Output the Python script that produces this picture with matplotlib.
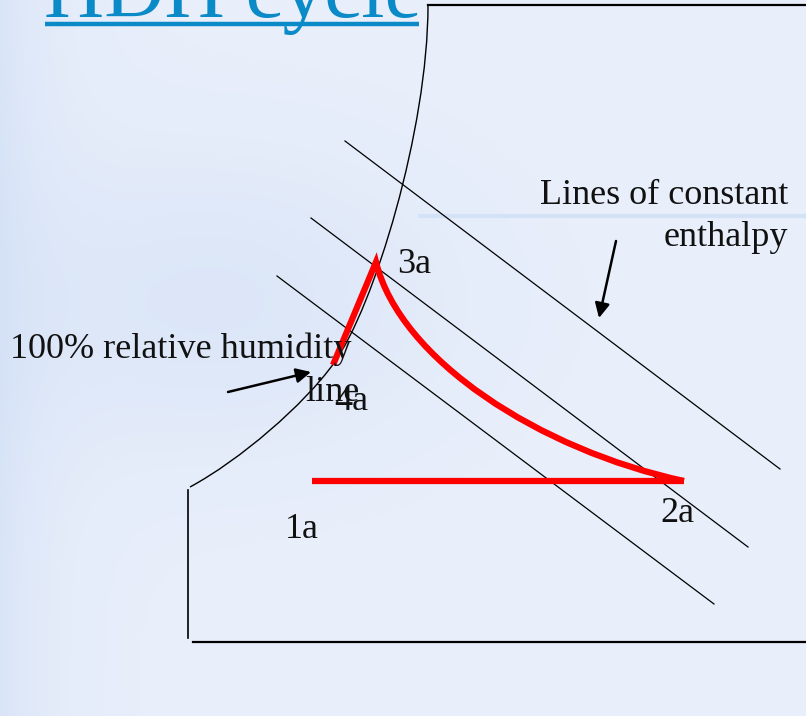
import numpy as np
import matplotlib.pyplot as plt
from matplotlib.path import Path
from matplotlib.patches import PathPatch

# diagram coordinates (image-like units, y grows downward)
# 100% RH curve as two cubic bezier pieces (anchor, ctrl, ctrl, anchor, ctrl, ctrl, anchor)
sat_x = [190, 240, 304, 334, 374, 428, 428]
sat_y = [487, 460, 405, 363, 307, 130, 5]

enth_x0 = [345, 311, 277]
enth_y0 = [141, 218, 276]
enth_x1 = [780, 748, 714]
enth_y1 = [469, 547, 604]

# cycle states
p4a = (333, 365)
p3a = (376, 262)
p2a = (684, 481)
p1a = (312, 481)
# bezier controls for the 3a -> 2a process
ctrl_x = [400, 540]
ctrl_y = [360, 450]

labels = ['3a', '4a', '1a', '2a']
lab_x = [397, 334, 285, 660]
lab_y = [273, 410, 538, 522]

fig = plt.figure(figsize=(8.06, 7.16), dpi=100)
ax = fig.add_axes([0, 0, 1, 1])
ax.set_xlim(0, 806)
ax.set_ylim(716, 0)
ax.axis('off')

# soft slide background
yy, xx = np.mgrid[0:716, 0:806]
base = np.array([233, 239, 251]) / 255.0
dark = np.array([210, 224, 246]) / 255.0
w = np.exp(-xx / 50.0) * 0.7
w = w + 0.55 * np.exp(-(((xx - 220) / 230.0) ** 2 + ((yy - 300) / 150.0) ** 2))
w = np.clip(w, 0, 1)
bg = base[None, None, :] * (1 - w[..., None]) + dark[None, None, :] * w[..., None]
ax.imshow(bg, extent=[0, 806, 716, 0], zorder=0, aspect='auto')
ax.plot([420, 806], [216, 216], color='#d4e2f7', lw=3, zorder=1)

# title
ax.text(44, 17, 'HDH cycle', fontsize=60, color='#0b8ac8',
        family='Liberation Serif', va='baseline', zorder=5)
ax.plot([45, 419], [24, 24], color='#0b8ac8', lw=3.2, solid_capstyle='butt', zorder=5)

# chart frame
codes = [Path.MOVETO] + [Path.CURVE4] * 6
sat = Path(list(zip(sat_x, sat_y)), codes)
ax.add_patch(PathPatch(sat, fc='none', ec='black', lw=1.0, zorder=3))
ax.plot([428, 806], [5, 5], color='black', lw=1.6, zorder=3)
ax.plot([188, 188], [490, 638], color='black', lw=1.2, zorder=3)
ax.plot([193, 806], [642, 642], color='black', lw=1.6, zorder=3)

# constant enthalpy lines
for i in range(len(enth_x0)):
    ax.plot([enth_x0[i], enth_x1[i]], [enth_y0[i], enth_y1[i]],
            color='black', lw=0.9, zorder=3)

# cycle
cyc = Path([p4a, p3a, (ctrl_x[0], ctrl_y[0]), (ctrl_x[1], ctrl_y[1]), p2a],
           [Path.MOVETO, Path.LINETO, Path.CURVE4, Path.CURVE4, Path.CURVE4])
ax.add_patch(PathPatch(cyc, fc='none', ec='#ff0000', lw=4.5, joinstyle='miter',
                       capstyle='butt', zorder=4))
ax.plot([p2a[0], p1a[0]], [p2a[1], p1a[1]], color='#ff0000', lw=4.5,
        solid_capstyle='butt', zorder=4)

font = dict(family='Liberation Serif', fontsize=26, color='#111111', zorder=6)
for t, x, y in zip(labels, lab_x, lab_y):
    ax.text(x, y, t, va='baseline', **font)

ax.text(10, 358, '100% relative humidity', va='baseline', **font)
ax.text(305, 401, 'line', va='baseline', **font)
ax.text(788, 204, 'Lines of constant', va='baseline', ha='right', **font)
ax.text(788, 246, 'enthalpy', va='baseline', ha='right', **font)

arrow = dict(arrowstyle='-|>', color='black', lw=1.8, mutation_scale=22,
             shrinkA=0, shrinkB=0)
ax.annotate('', xy=(599, 318), xytext=(616, 241), arrowprops=arrow, zorder=6)
ax.annotate('', xy=(311, 372), xytext=(228, 392), arrowprops=arrow, zorder=6)

fig.savefig('out.png', dpi=100)
